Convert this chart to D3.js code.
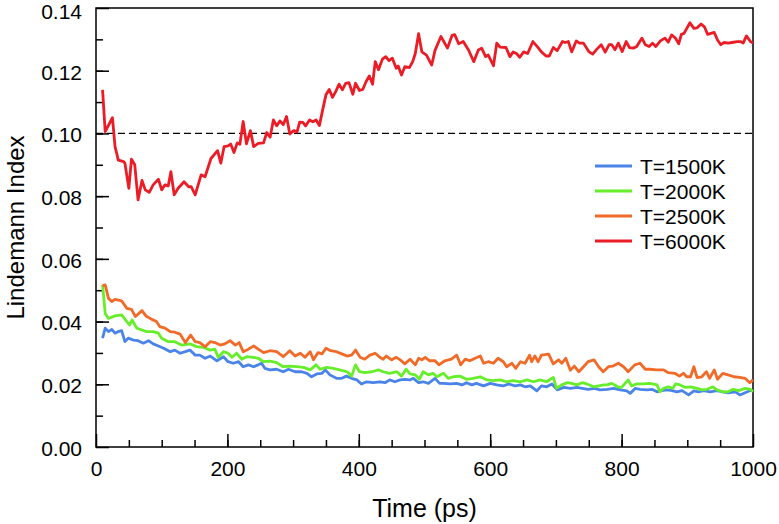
<!DOCTYPE html>
<html>
<head>
<meta charset="utf-8">
<script src="https://cdn.jsdelivr.net/npm/d3@7"></script>
<style>
  body { margin: 0; background: #fff; }
  text { font-family: "Liberation Sans", Arial, sans-serif; }
</style>
</head>
<body>
<div id="chart"></div>
<script>
// values: [time (ps), Lindemann index]
const blue = [[10,.0347],[14,.0379],[19,.0368],[24,.0375],[29,.0363],[34,.0368],[39,.0371],[44,.0336],[49,.0347],[57,.0341],
  [64,.0339],[72,.0331],[80,.0339],[87,.0329],[95,.0322],[103,.0315],[113,.0304],[120,.0309],[128,.0299],[136,.0304],
  [143,.0309],[151,.0293],[158,.0293],[166,.0283],[174,.029],[184,.0275],[194,.0288],[201,.0272],[209,.0267],[217,.0272],
  [224,.0256],[232,.0262],[240,.0256],[247,.0262],[252,.0267],[257,.0251],[265,.0246],[275,.0248],[285,.024],[293,.0248],
  [303,.024],[313,.024],[321,.0235],[328,.0224],[336,.0233],[344,.0235],[349,.0246],[356,.023],[366,.0219],[374,.0219],
  [381,.0226],[389,.0219],[397,.0214],[404,.0201],[412,.0208],[422,.0205],[432,.0208],[440,.0205],[447,.0214],[455,.0208],
  [463,.0214],[470,.0216],[478,.0214],[483,.0219],[491,.0205],[498,.0208],[506,.0203],[516,.0219],[523,.0203],
  [529,.0203],[539,.0201],[549,.0203],[557,.0198],[564,.0205],[572,.0198],[579,.0203],[590,.0195],[600,.0203],[610,.0198],
  [620,.0195],[628,.0201],[638,.0195],[646,.0198],[653,.0192],[661,.0195],[671,.0179],[678,.0195],[686,.0192],[694,.0201],
  [702,.0182],[712,.019],[722,.0187],[732,.019],[740,.0187],[749,.0184],[759,.0187],[767,.0182],[778,.0184],[788,.0187],
  [798,.0182],[808,.0179],[813,.0171],[821,.0187],[828,.0184],[839,.0182],[846,.0184],[854,.0176],[861,.018],[869,.0182],
  [877,.018],[884,.0176],[892,.018],[902,.0166],[910,.0179],[917,.0176],[925,.018],[935,.0176],[945,.018],[954,.0176],
  [962,.0173],[973,.0176],[980,.0166],[988,.0173],[996,.018],[1000,.018]];

const green = [[10,.0517],[14,.0426],[19,.041],[29,.0418],[39,.0421],[47,.040],[51,.0389],[55,.0405],[62,.0379],[70,.0373],
  [77,.0368],[87,.0368],[95,.0363],[100,.0347],[110,.0336],[120,.0336],[130,.0325],[143,.0329],[153,.032],[163,.0318],
  [174,.0309],[181,.0312],[186,.0286],[194,.0304],[201,.0299],[207,.0286],[214,.0299],[222,.028],[229,.0288],[240,.0286],
  [247,.0283],[255,.0272],[265,.0274],[275,.0269],[285,.0256],[295,.0258],[305,.0256],[316,.0254],[326,.0246],[335,.0262],
  [341,.0248],[351,.0254],[361,.0251],[371,.0246],[382,.024],[389,.0226],[395,.0262],[401,.024],[409,.0237],[420,.024],
  [430,.0246],[437,.024],[447,.0235],[458,.024],[465,.0226],[472,.0248],[478,.0233],[486,.023],[492,.0216],[498,.024],
  [506,.023],[513,.0235],[519,.0224],[529,.0235],[536,.0219],[544,.0224],[554,.0226],[564,.0216],[574,.0219],[585,.0224],
  [595,.0214],[605,.0212],[615,.0214],[625,.0208],[635,.0212],[646,.0208],[656,.0214],[666,.0208],[676,.0214],[686,.0208],
  [696,.0222],[701,.0187],[709,.0198],[717,.0205],[724,.0203],[732,.0198],[740,.0205],[747,.0201],[758,.0192],[765,.0195],
  [773,.0198],[778,.0198],[785,.0203],[794,.0192],[800,.019],[810,.0214],[815,.0195],[823,.0201],[833,.0201],[843,.0203],
  [854,.0198],[858,.0176],[864,.0187],[871,.0192],[878,.0187],[882,.0201],[889,.0198],[897,.019],[905,.0192],[915,.0187],
  [922,.0182],[930,.0184],[939,.0192],[945,.0182],[954,.0176],[962,.0176],[970,.0184],[978,.018],[988,.0187],[996,.0184],
  [1000,.0176]];

const orange = [[10,.0514],[14,.0517],[19,.0474],[24,.0464],[29,.0471],[39,.0466],[47,.0442],[54,.0439],[60,.0416],[70,.0435],
  [76,.0418],[85,.0407],[92,.040],[97,.0384],[105,.0379],[113,.0368],[120,.0366],[128,.036],[136,.0333],[144,.0357],
  [151,.0336],[158,.0333],[166,.032],[174,.0336],[181,.0333],[189,.0325],[196,.0329],[204,.0339],[212,.0325],[218,.0333],
  [224,.0304],[232,.0312],[240,.0322],[247,.0312],[255,.0301],[265,.0307],[275,.0304],[285,.0288],[295,.0307],[303,.029],
  [311,.0299],[318,.0286],[326,.0304],[331,.0278],[338,.0301],[344,.0297],[350,.0315],[357,.0307],[366,.0304],[374,.0297],
  [382,.029],[389,.0293],[395,.0309],[402,.0286],[409,.028],[417,.0293],[425,.0299],[432,.0286],[437,.028],[442,.029],
  [450,.0278],[457,.0286],[463,.0278],[470,.0265],[478,.028],[486,.0262],[491,.0283],[496,.0278],[501,.0286],[508,.0275],
  [516,.0275],[522,.0262],[531,.0275],[541,.028],[549,.0293],[555,.0262],[562,.028],[569,.0275],[577,.0283],[585,.029],
  [590,.0267],[597,.0272],[605,.0267],[612,.0283],[620,.0272],[625,.0256],[633,.0267],[639,.0251],[646,.0272],[653,.0267],
  [660,.0293],[663,.0272],[668,.029],[673,.0272],[678,.0293],[689,.0296],[696,.0265],[704,.0278],[709,.0267],[715,.0283],
  [722,.0245],[728,.0258],[735,.024],[742,.0256],[749,.0272],[758,.0278],[765,.0256],[772,.024],[780,.0256],[787,.0258],
  [795,.0267],[803,.0256],[810,.024],[820,.0262],[828,.0267],[836,.0248],[843,.0248],[853,.0246],[864,.0246],[871,.0237],
  [881,.0235],[888,.0226],[894,.0235],[899,.0224],[905,.0224],[910,.0256],[915,.0221],[922,.0224],[929,.024],[934,.0219],
  [941,.0246],[946,.0216],[954,.0235],[962,.023],[971,.0224],[980,.0222],[988,.0219],[995,.0205],[1000,.0214]];

const red = [[10,.1139],[14,.1006],[25,.105],[29,.0958],[34,.0915],[42,.091],[44,.0905],[50,.0825],[54,.0918],[59,.090],
  [64,.0788],[70,.085],[75,.082],[81,.0812],[87,.0836],[95,.0854],[100,.082],[105,.0836],[110,.0833],[114,.0878],
  [119,.0804],[125,.0825],[134,.0846],[141,.083],[145,.083],[151,.0804],[160,.0868],[166,.0862],[175,.092],[185,.0945],
  [190,.0905],[195,.0958],[201,.096],[205,.0966],[210,.0939],[215,.097],[219,.0965],[224,.1038],[229,.0967],[235,.1009],
  [240,.0958],[247,.0968],[255,.097],[260,.1003],[265,.0988],[270,.1043],[275,.1024],[280,.104],[285,.1028],[290,.1054],
  [295,.0998],[301,.1009],[306,.1005],[310,.1036],[315,.1035],[319,.1024],[325,.1043],[330,.1037],[335,.1043],[340,.1025],
  [345,.1075],[350,.1123],[355,.114],[360,.1115],[365,.1134],[370,.1157],[375,.1139],[380,.116],[385,.1162],[391,.1125],
  [395,.116],[401,.1137],[406,.114],[411,.1165],[416,.1183],[421,.1157],[425,.1229],[430,.1203],[436,.1237],[441,.1245],
  [446,.1232],[451,.124],[457,.1208],[460,.1215],[465,.1186],[470,.1213],[477,.121],[482,.1229],[486,.1255],[491,.1318],
  [496,.126],[503,.125],[511,.1218],[516,.1265],[525,.1309],[535,.1272],[542,.1313],[546,.1315],[552,.1286],[559,.1293],
  [567,.1266],[575,.1229],[582,.1266],[587,.1272],[593,.1245],[597,.125],[605,.1216],[610,.1288],[615,.1275],[624,.1274],
  [630,.1245],[635,.126],[640,.1255],[645,.1243],[651,.126],[657,.1255],[665,.1293],[672,.1276],[678,.126],[685,.1247],
  [690,.1247],[696,.1274],[702,.1264],[710,.1293],[714,.129],[719,.1293],[724,.126],[731,.1295],[736,.1288],[742,.1288],
  [750,.1261],[756,.1253],[762,.1268],[769,.1283],[775,.1259],[781,.1283],[785,.1283],[790,.1267],[795,.1288],[801,.1261],
  [807,.1293],[812,.1274],[818,.1272],[823,.1277],[831,.1304],[836,.1283],[842,.1277],[847,.1288],[852,.1277],[859,.1295],
  [866,.1304],[871,.1291],[876,.1314],[882,.1304],[887,.1286],[891,.1316],[895,.1319],[904,.1353],[910,.1335],[915,.1337],
  [921,.1349],[926,.134],[931,.1316],[936,.1319],[941,.1322],[946,.1298],[951,.1283],[956,.129],[962,.1288],[968,.129],
  [976,.1293],[981,.1293],[985,.1288],[990,.1311],[996,.1293],[1000,.1288]];

const seriesNames = ["T=1500K", "T=2000K", "T=2500K", "T=6000K"];
const seriesData = [blue, green, orange, red];
const seriesColors = ["#4a84e8", "#66ee2a", "#f26a28", "#ec1c26"];
const xTicks = [0, 200, 400, 600, 800, 1000];
const yTicks = [0, 0.02, 0.04, 0.06, 0.08, 0.10, 0.12, 0.14];
const threshold = 0.10;

// set the dimensions and margins of the graph
var margin = {top: 8, right: 26, bottom: 77, left: 96},
  width = 779 - margin.left - margin.right,
  height = 524 - margin.top - margin.bottom;

var svg = d3.select("#chart")
  .append("svg")
  .attr("width", 779)
  .attr("height", 524)
  .append("g")
  .attr("transform", "translate(" + margin.left + "," + margin.top + ")");

var x = d3.scaleLinear().domain([0, 1000]).range([0, width]);
var y = d3.scaleLinear().domain([0, 0.14]).range([height, 0]);

// minor ticks
svg.append("g")
  .attr("transform", "translate(0," + height + ")")
  .call(d3.axisBottom(x).tickValues(d3.range(50, 1000, 50)).tickSize(-7).tickFormat(""));
svg.append("g")
  .call(d3.axisLeft(y).tickValues(d3.range(0.01, 0.14, 0.01)).tickSize(-7).tickFormat(""));

// major ticks + labels
svg.append("g")
  .attr("transform", "translate(0," + height + ")")
  .call(d3.axisBottom(x).tickValues(xTicks).tickSize(-13).tickPadding(14).tickFormat(d3.format("d")));
var yAxis = svg.append("g")
  .call(d3.axisLeft(y).tickValues(yTicks).tickSize(-13).tickPadding(14).tickFormat(d3.format(".2f")));
// top label sits a touch low in the original, keeps it inside the page too
yAxis.selectAll(".tick text").attr("dy", function(d) { return d === 0.14 ? "0.52em" : "0.4em"; });

svg.selectAll(".domain").remove();
svg.selectAll(".tick line").attr("stroke", "#000").attr("stroke-width", 1.5);
svg.selectAll(".tick text").attr("font-size", 21).attr("fill", "#000")
  .style("font-family", "'Liberation Sans', Arial, sans-serif");

// frame
svg.append("rect")
  .attr("width", width)
  .attr("height", height)
  .attr("fill", "none")
  .attr("stroke", "#000")
  .attr("stroke-width", 1.5);

// 0.10 dashed reference line
svg.append("line")
  .attr("x1", 0).attr("x2", width)
  .attr("y1", y(threshold)).attr("y2", y(threshold))
  .attr("stroke", "#000")
  .attr("stroke-width", 1.3)
  .attr("stroke-dasharray", "7,4");

var line = d3.line()
  .x(function(d) { return x(d[0]) })
  .y(function(d) { return y(d[1]) });

seriesData.forEach(function(s, i) {
  svg.append("path")
    .datum(s)
    .attr("fill", "none")
    .attr("stroke", seriesColors[i])
    .attr("stroke-width", 2.8)
    .attr("stroke-linejoin", "round")
    .attr("d", line);
});

// legend
var legend = svg.append("g").attr("transform", "translate(" + (595 - margin.left) + "," + (166 - margin.top) + ")");
seriesNames.forEach(function(name, i) {
  var row = legend.append("g").attr("transform", "translate(0," + (i * 25) + ")");
  row.append("line")
    .attr("x1", 0).attr("x2", 37)
    .attr("stroke", seriesColors[i])
    .attr("stroke-width", 3);
  row.append("text")
    .attr("x", 45)
    .attr("dy", "0.36em")
    .attr("font-size", 21)
    .text(name);
});

// axis titles
svg.append("text")
  .attr("x", width / 2)
  .attr("y", 517 - margin.top)
  .attr("text-anchor", "middle")
  .attr("font-size", 25)
  .text("Time (ps)");

svg.append("text")
  .attr("transform", "translate(" + (24 - margin.left) + "," + (height / 2) + ") rotate(-90)")
  .attr("text-anchor", "middle")
  .attr("font-size", 24)
  .text("Lindemann Index");
</script>
</body>
</html>
